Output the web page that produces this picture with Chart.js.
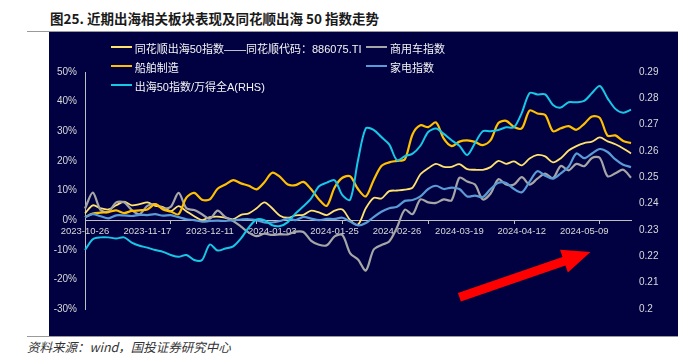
<!DOCTYPE html>
<html>
<head>
<meta charset="utf-8">
<script src="https://cdn.jsdelivr.net/npm/chart.js@4.4.1/dist/chart.umd.min.js"></script>
<style>
html,body{margin:0;padding:0;background:#ffffff;width:693px;height:353px;overflow:hidden;}
#title{position:absolute;left:50px;top:8px;font:bold 13.5px "Noto Sans CJK SC","Liberation Sans",sans-serif;color:#1a1a1a;white-space:nowrap;line-height:20px;}
#tline{position:absolute;left:27px;top:31px;width:651px;height:1px;background:#9a9a9a;}
#box{position:absolute;left:49px;top:32px;width:629px;height:304px;background:#010142;}
#box canvas{position:absolute;left:0;top:0;}
#fline{position:absolute;left:27px;top:336px;width:651px;height:1px;background:#9a9a9a;}
#foot{position:absolute;left:27px;top:339px;font:italic 12.5px "Noto Sans CJK SC","Liberation Mono",sans-serif;color:#333;line-height:16px;white-space:nowrap;}
.leg{position:absolute;height:14px;line-height:14px;font:11px "Liberation Sans","Noto Sans CJK SC",sans-serif;color:#f4f4f4;white-space:nowrap;}
.leg i{position:absolute;left:0;top:6px;width:21px;height:2px;}
.leg span{position:absolute;left:24px;top:0;}
</style>
</head>
<body>
<div id="title">图25. 近期出海相关板块表现及同花顺出海 50 指数走势</div>
<div id="tline"></div>
<div id="box"><canvas id="c" width="629" height="304"></canvas></div>
<div id="fline"></div>
<div id="foot">资料来源：wind，国投证券研究中心</div>
<script>
// ---- data ----
const categories = [
 '2023-10-26','2023-10-30','2023-11-01','2023-11-03','2023-11-07','2023-11-09','2023-11-13','2023-11-15','2023-11-17','2023-11-21',
 '2023-11-23','2023-11-27','2023-11-29','2023-12-01','2023-12-05','2023-12-07','2023-12-11','2023-12-13','2023-12-15','2023-12-19',
 '2023-12-21','2023-12-25','2023-12-27','2023-12-29','2024-01-03','2024-01-05','2024-01-09','2024-01-11','2024-01-15','2024-01-17',
 '2024-01-19','2024-01-23','2024-01-25','2024-01-29','2024-01-31','2024-02-02','2024-02-06','2024-02-08','2024-02-20','2024-02-22',
 '2024-02-26','2024-02-28','2024-03-01','2024-03-05','2024-03-07','2024-03-11','2024-03-13','2024-03-15','2024-03-19','2024-03-21',
 '2024-03-25','2024-03-27','2024-03-29','2024-04-02','2024-04-08','2024-04-10','2024-04-12','2024-04-16','2024-04-18','2024-04-22',
 '2024-04-24','2024-04-26','2024-04-30','2024-05-07','2024-05-09','2024-05-13','2024-05-15','2024-05-17','2024-05-21','2024-05-23',
 '2024-05-27'];
const tickLabels = ['2023-10-26','2023-11-17','2023-12-11','2024-01-03','2024-01-25','2024-02-26','2024-03-19','2024-04-12','2024-05-09'];
const seriesNames = ['同花顺出海50指数——同花顺代码：886075.TI','商用车指数','船舶制造','家电指数','出海50指数/万得全A(RHS)'];
const ths50 = [2.3,5.0,4.0,3.6,5.0,6.2,5.0,5.4,6.0,4.8, 4.4,3.0,4.7,3.0,1.3,0.0,1.0,1.2,0.8,0.3,
 1.8,2.3,4.0,6.0,4.0,1.5,0.8,1.6,1.8,3.2, 2.6,1.7,3.2,3.6,0.0,-1.5,4.0,7.5,7.3,9.8,
 10.0,10.3,11.0,15.5,17.5,19.0,18.0,18.0,18.9,17.2, 17.0,17.0,17.9,20.0,19.0,19.8,18.5,20.8,22.0,21.5,
 19.5,20.9,23.5,25.0,26.0,26.5,27.9,26.6,25.6,24.2,22.5];
const truck = [3.9,9.3,3.4,2.8,6.0,6.0,3.4,2.0,4.8,5.4, 4.0,4.5,9.2,4.0,3.4,2.0,0.5,3.2,1.0,-0.3,
 -2.2,-4.2,-5.4,-4.6,-5.0,-4.8,-4.8,-3.9,-4.0,-7.0, -8.3,-8.5,-5.5,-5.0,-11.2,-13.3,-17.0,-10.0,-8.4,-7.2,
 -2.5,3.5,2.0,7.0,6.0,5.8,7.0,6.7,14.3,13.0, 12.0,7.0,9.0,13.8,12.0,12.0,14.5,12.0,14.0,15.7,
 14.2,18.3,16.8,19.0,18.2,21.0,21.0,14.8,15.8,17.0,14.3];
const ship = [1.0,2.2,2.5,2.7,3.3,2.4,3.1,3.3,3.6,5.4, 3.6,2.9,2.0,7.6,9.2,6.9,7.0,10.6,12.0,13.5,
 12.4,11.6,10.4,12.8,16.0,14.6,12.0,11.8,12.9,10.4, 7.0,4.8,11.0,14.3,14.8,10.5,8.0,13.5,18.3,19.5,
 20.0,20.5,29.0,32.0,31.4,33.0,27.5,25.0,26.5,26.9, 26.4,25.3,27.0,32.8,33.5,31.4,31.0,37.0,36.0,35.5,
 30.0,31.0,31.7,30.5,32.5,35.0,34.5,28.5,28.6,26.7,26.0];
const appliance = [1.0,2.0,1.3,0.6,1.6,1.6,1.4,1.8,1.7,2.0, 1.5,1.7,1.0,0.3,0.0,-0.5,-0.3,-0.2,-0.3,0.0,
 0.2,0.3,0.0,-0.8,-0.8,-0.3,0.5,0.0,1.1,0.5, 0.0,0.4,0.4,0.8,-0.5,-1.8,-1.0,1.0,2.8,4.0,
 4.5,6.5,6.8,8.0,10.5,11.6,10.5,11.0,10.5,8.0, 8.3,7.8,10.5,12.6,12.5,10.5,9.4,13.0,16.5,15.0,
 14.0,15.8,18.0,22.5,20.9,22.5,24.0,23.0,20.5,18.7,17.9];
const ratioRHS = [0.2224,0.2265,0.2272,0.2272,0.2268,0.2272,0.2252,0.2240,0.2233,0.2224,
 0.2217,0.2205,0.2198,0.2205,0.2186,0.2186,0.2245,0.2222,0.2230,0.2238,
 0.2268,0.2310,0.2340,0.2337,0.2318,0.2315,0.2330,0.2363,0.2390,0.2420,
 0.2466,0.2480,0.2489,0.2432,0.2415,0.2565,0.2686,0.2680,0.2653,0.2625,
 0.2565,0.2580,0.2590,0.2620,0.2672,0.2685,0.2665,0.2641,0.2620,0.2585,
 0.2630,0.2675,0.2675,0.2680,0.2690,0.2690,0.2745,0.2820,0.2815,0.2815,
 0.2775,0.2765,0.2785,0.2785,0.2790,0.2820,0.2847,0.2800,0.2760,0.2745,0.2757];
const leftRange = [-30, 50, 10];
const rightRange = [0.2, 0.29, 0.01];
// annotation arrow: [category index, left-axis value]
const arrowFrom = [48, -26];
const arrowTo = [64.8, -10.8];

// ---- styles ----
const colors = ['#FFE36E','#A6A6A6','#FFC000','#5B9BD5','#17C8E6'];
const widths = [1.8,2.2,2.2,2.2,2];
const axes = ['yL','yL','yL','yL','yR'];
const orders = [5,4,3,2,1];
const legendSlots = [[61.7,8.3],[317,8.3],[61.7,27],[317,27],[61.7,46]];
const seriesData = [ths50, truck, ship, appliance, ratioRHS];

const tickColor = '#D9D9D9';
const axisColor = '#BFBFBF';

const arrowPlugin = {
  id:'arrow',
  afterDatasetsDraw(chart){
    const xs = chart.scales.x, ys = chart.scales.yL, ctx = chart.ctx;
    const x1 = xs.getPixelForValue(arrowFrom[0]), y1 = ys.getPixelForValue(arrowFrom[1]);
    const x2 = xs.getPixelForValue(arrowTo[0]), y2 = ys.getPixelForValue(arrowTo[1]);
    const ang = Math.atan2(y2-y1, x2-x1), len = Math.hypot(x2-x1, y2-y1);
    const sw = 4.5, hw = 12, hl = 28;
    ctx.save();
    ctx.translate(x1,y1); ctx.rotate(ang);
    ctx.beginPath();
    ctx.moveTo(0,-sw); ctx.lineTo(len-hl,-sw); ctx.lineTo(len-hl,-hw); ctx.lineTo(len,0);
    ctx.lineTo(len-hl,hw); ctx.lineTo(len-hl,sw); ctx.lineTo(0,sw); ctx.closePath();
    ctx.fillStyle = '#FF0000'; ctx.fill();
    ctx.restore();
  }
};

const chart = new Chart(document.getElementById('c'), {
  type:'line',
  data:{
    labels:categories,
    datasets: seriesData.map((d,i)=>({
      label:seriesNames[i], data:d, borderColor:colors[i], backgroundColor:colors[i],
      borderWidth:widths[i], yAxisID:axes[i], order:orders[i],
      pointRadius:0, tension:0.3, fill:false
    }))
  },
  options:{
    responsive:false, animation:false, devicePixelRatio:1,
    layout:{padding:{top:40,bottom:27,left:0,right:0}},
    plugins:{legend:{display:false}, tooltip:{enabled:false}},
    scales:{
      x:{
        type:'category', position:{yL:0}, offset:false,
        grid:{display:true, drawOnChartArea:false, drawTicks:true, tickLength:3,
          color:(c)=> (c.index % 11 === 0 ? axisColor : 'rgba(0,0,0,0)'), lineWidth:1},
        border:{display:true, color:axisColor, width:1},
        ticks:{autoSkip:false, maxRotation:0, minRotation:0, padding:3, color:tickColor,
          font:{family:'"Liberation Sans", Arial, sans-serif', size:9.5},
          callback:function(v){ const l = this.getLabelForValue(v); return tickLabels.includes(l) ? l : ''; }}
      },
      yL:{
        position:'left', min:leftRange[0], max:leftRange[1],
        grid:{display:false, drawTicks:false},
        border:{display:true, color:axisColor, width:1},
        ticks:{stepSize:leftRange[2], padding:8, color:tickColor,
          font:{family:'"Liberation Sans", Arial, sans-serif', size:10},
          callback:(v)=> v + '%'},
        afterFit:(s)=>{ s.width = 36; }
      },
      yR:{
        position:'right', min:rightRange[0], max:rightRange[1],
        grid:{display:false, drawTicks:false},
        border:{display:false},
        ticks:{stepSize:rightRange[2], padding:8, color:tickColor,
          font:{family:'"Liberation Sans", Arial, sans-serif', size:10},
          callback:(v)=> String(Math.round(v*100)/100)},
        afterFit:(s)=>{ s.width = 47; }
      }
    }
  },
  plugins:[arrowPlugin]
});

// HTML legend built from the chart's datasets
const box = document.getElementById('box');
chart.data.datasets.forEach((ds,i)=>{
  const d = document.createElement('div');
  d.className = 'leg';
  d.style.left = legendSlots[i][0] + 'px';
  d.style.top = legendSlots[i][1] + 'px';
  const line = document.createElement('i');
  line.style.background = ds.borderColor;
  const t = document.createElement('span');
  t.textContent = ds.label;
  d.appendChild(line); d.appendChild(t);
  box.appendChild(d);
});
</script>
</body>
</html>
